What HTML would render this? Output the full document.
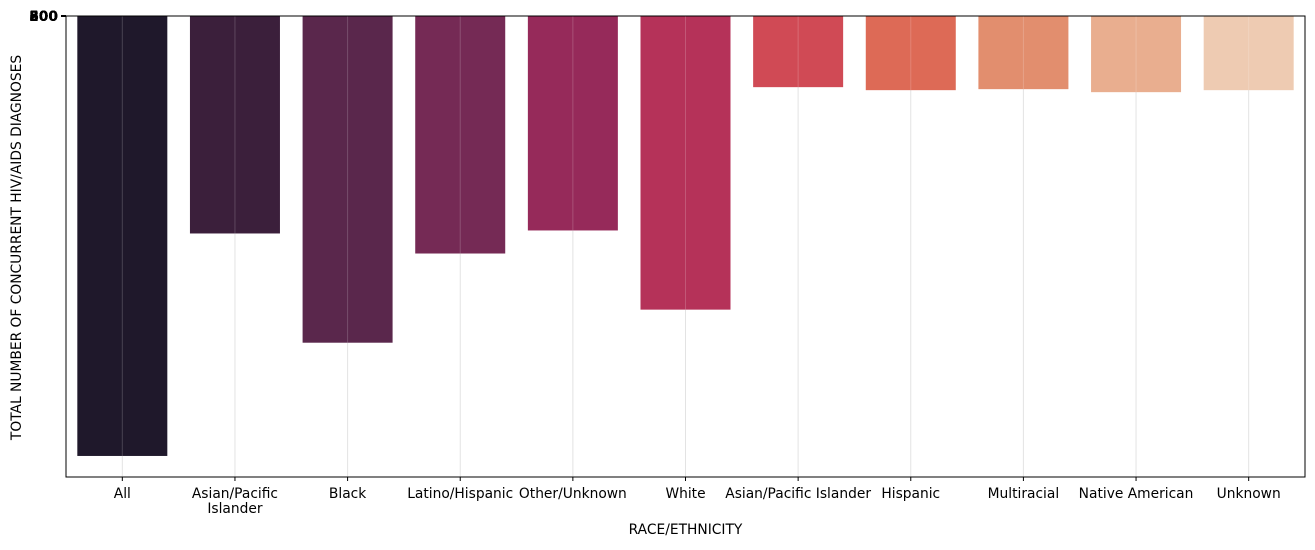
<!DOCTYPE html>
<html><head><meta charset="utf-8"><style>
body{margin:0;background:#fff;font-family:"DejaVu Sans","Liberation Sans",sans-serif;}
</style></head><body>
<svg id="chart" width="1315" height="546" xmlns="http://www.w3.org/2000/svg" font-family="DejaVu Sans, Liberation Sans, sans-serif"></svg>
<script>
const categories=["All","Asian/Pacific\nIslander","Black","Latino/Hispanic","Other/Unknown","White","Asian/Pacific Islander","Hispanic","Multiracial","Native American","Unknown"];
const values=[439,217,326,237,214,293,71,74,73,76,74];
const colors=["#1f182b","#3b1f3b","#5a274c","#752a55","#962a5a","#b53259","#d04a55","#dd6a56","#e28e6e","#e9ae8f","#eecbb2"];
const yTickLabels=["200","300","800","600","500"];
const svg=document.getElementById('chart');
const NS='http://www.w3.org/2000/svg';
const L=66,R=1305,T=16,B=477;
const FS=13.8;
const step=(R-L)/categories.length;
const x=i=>L+step*(i+0.5);
const y=v=>T+v*(B-T)/460;
function mk(t,a,p){const e=document.createElementNS(NS,t);for(const k in a)e.setAttribute(k,a[k]);(p||svg).appendChild(e);return e;}
categories.forEach((c,i)=>{
  const g=mk('line',{x1:x(i),x2:x(i),y1:T,y2:B,stroke:'#e3e3e3','stroke-width':1});
  
  
});
values.forEach((v,i)=>{
  const r=mk('rect',{x:x(i)-45,y:T,width:90,height:y(v)-T,fill:colors[i]});
  
  
  const g=mk('line',{x1:x(i),x2:x(i),y1:T,y2:y(v),stroke:'#ffffff','stroke-opacity':0.18,'stroke-width':1});
  
  
});
const ax=mk('rect',{x:L,y:T,width:R-L,height:B-T,fill:'none',stroke:'#000','stroke-width':1});


categories.forEach((c,i)=>{
  mk('line',{x1:x(i),x2:x(i),y1:B,y2:B+4,stroke:'#000'});
  const t=mk('text',{x:x(i),y:B+21,'text-anchor':'middle','font-size':FS,fill:'#000'});
  
  
  c.split('\n').forEach((ln,j)=>{const s=mk('tspan',{x:x(i),dy:j?15:0},t);s.textContent=ln;});
});
yTickLabels.forEach((l,i)=>{
  mk('line',{x1:L-5,x2:L,y1:T,y2:T,stroke:'#000','stroke-width':2});
  const t=mk('text',{x:L-8,y:T+5,'text-anchor':'end','font-size':FS,'font-weight':'bold',fill:'#000'});
  
  
  t.textContent=l;
});
const xt=mk('text',{x:(L+R)/2,y:534,'text-anchor':'middle','font-size':FS});


xt.textContent='RACE/ETHNICITY';
const yc=(T+B)/2+1;
const yt=mk('text',{x:21,y:yc,'text-anchor':'middle','font-size':FS,transform:'rotate(-90 21 '+yc+')'});


yt.textContent='TOTAL NUMBER OF CONCURRENT HIV/AIDS DIAGNOSES';
</script>
</body></html>
